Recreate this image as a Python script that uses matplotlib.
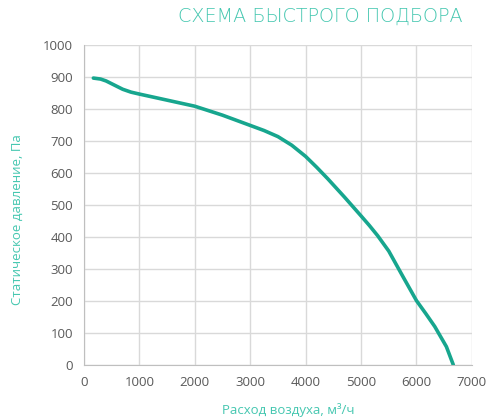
import matplotlib
matplotlib.use("Agg")
import matplotlib.pyplot as plt

# ======================================================
# 데이터
# ======================================================
flow = [170, 300, 400, 550, 700, 850, 1000, 1500, 2000, 2500, 3000,
        3250, 3500, 3750, 4000, 4200, 4400, 4700, 5000, 5150, 5300,
        5500, 5750, 6000, 6170, 6330, 6540, 6665]
pressure = [897, 894, 888, 875, 862, 853, 847, 828, 809, 781, 749,
            733, 714, 687, 652, 618, 582, 525, 466, 436, 404,
            356, 278, 201, 160, 120, 57, 0]

x_ticks = [0, 1000, 2000, 3000, 4000, 5000, 6000, 7000]
y_ticks = [0, 100, 200, 300, 400, 500, 600, 700, 800, 900, 1000]

TITLE = "СХЕМА БЫСТРОГО ПОДБОРА"
X_LABEL = "Расход воздуха, м³/ч"
Y_LABEL = "Статическое давление, Па"

LINE_COLOR = "#17a68e"
LABEL_COLOR = "#45c7b0"
TICK_COLOR = "#595959"
GRID_COLOR = "#d9d9d9"

plt.rcParams["font.family"] = ["Open Sans", "DejaVu Sans"]

# ======================================================
# 그림
# ======================================================
fig = plt.figure(figsize=(4.88, 4.18), dpi=100)
ax = fig.add_axes([0.172, 0.127, 0.795, 0.765])

ax.plot(flow, pressure, color=LINE_COLOR, linewidth=2.6,
        solid_joinstyle="round", solid_capstyle="round")

ax.set_xlim(0, 7000)
ax.set_ylim(0, 1000)
ax.set_xticks(x_ticks)
ax.set_yticks(y_ticks)
ax.tick_params(length=0, labelsize=9.5, colors=TICK_COLOR, pad=8)
ax.grid(True, color=GRID_COLOR, linewidth=1)
ax.set_axisbelow(True)

for side in ["top", "right"]:
    ax.spines[side].set_visible(False)
for side in ["left", "bottom"]:
    ax.spines[side].set_color("#bfbfbf")

fig.text(0.947, 0.96, TITLE, color=LABEL_COLOR, fontsize=13.8,
         ha="right", va="center", family=["DejaVu Sans"],
         fontweight="light")
fig.text(0.59, 0.018, X_LABEL, color=LABEL_COLOR, fontsize=9.5,
         ha="center", va="center")
fig.text(0.035, 0.475, Y_LABEL, color=LABEL_COLOR, fontsize=9.5,
         ha="center", va="center", rotation=90)

fig.savefig("out.png", dpi=100)
